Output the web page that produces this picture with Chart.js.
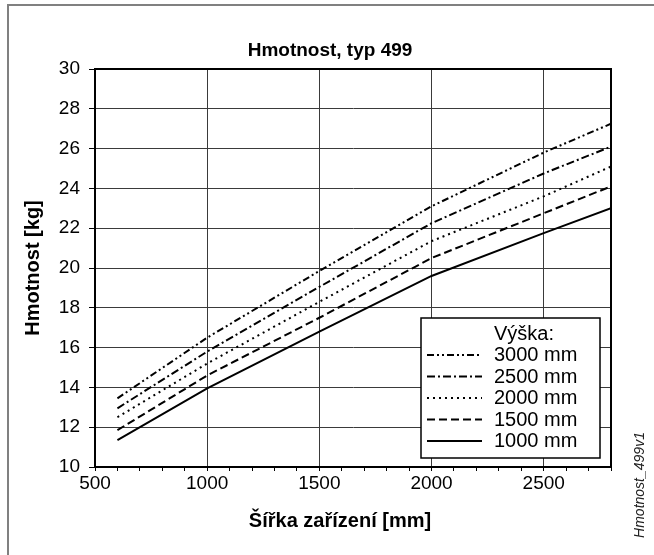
<!DOCTYPE html>
<html lang="cs">
<head>
<meta charset="utf-8">
<title>Hmotnost, typ 499</title>
<script src="https://cdn.jsdelivr.net/npm/chart.js@4/dist/chart.umd.min.js"></script>
<style>
  html, body { margin: 0; padding: 0; background: #fff; }
  canvas { display: block; }
</style>
</head>
<body>
<canvas id="chart" width="654" height="555"></canvas>
<script>
// Šířka zařízení [mm]
const widths = [600, 1000, 1500, 2000, 2500, 2800];

// Hmotnost [kg] pro jednotlivé výšky zařízení
const h3000 = [13.45, 16.5, 19.85, 23.1, 25.8, 27.25];
const h2500 = [12.95, 15.8, 19.05, 22.25, 24.75, 26.1];
const h2000 = [12.5, 15.2, 18.3, 21.35, 23.6, 25.1];
const h1500 = [11.85, 14.6, 17.5, 20.5, 22.75, 24.1];
const h1000 = [11.35, 13.95, 16.8, 19.6, 21.75, 23.0];

const seriesLabels = ['3000 mm', '2500 mm', '2000 mm', '1500 mm', '1000 mm'];
const seriesValues = [h3000, h2500, h2000, h1500, h1000];

// Popisky os
const xTickLabels = [500, 1000, 1500, 2000, 2500];
const yTickLabels = [10, 12, 14, 16, 18, 20, 22, 24, 26, 28, 30];

// Styly čar: čerchovaná se dvěma tečkami, čerchovaná, tečkovaná, čárkovaná, plná
const dashStyles = [
  [7, 3, 2, 3, 2, 3],
  [8, 3, 2, 3],
  [2, 4],
  [8, 4],
  []
];

const FONT = "'Liberation Sans', Arial, Helvetica, sans-serif";
const GRID = '#3a3a3a';

Chart.defaults.font.family = FONT;
Chart.defaults.color = '#000';

const datasets = seriesValues.map((vals, i) => ({
  label: seriesLabels[i],
  data: widths.map((w, j) => ({ x: w, y: vals[j] })),
  borderColor: '#000',
  borderWidth: 2,
  borderDash: dashStyles[i],
  pointRadius: 0,
  fill: false,
  tension: 0
}));

// Rám, nadpis, okraj grafu, popisy os, legenda a značka výkresu
const decorations = {
  id: 'decorations',
  beforeDraw(chart) {
    const ctx = chart.ctx;
    ctx.save();
    ctx.strokeStyle = '#808080';
    ctx.lineWidth = 2;
    ctx.beginPath();
    ctx.moveTo(8, 555);
    ctx.lineTo(8, 5);
    ctx.lineTo(654, 5);
    ctx.stroke();

    ctx.fillStyle = '#000';
    ctx.font = 'bold 19px ' + FONT;
    ctx.textAlign = 'center';
    ctx.textBaseline = 'middle';
    ctx.fillText('Hmotnost, typ 499', 330, 51);
    ctx.restore();
  },
  afterDatasetsDraw(chart) {
    const ctx = chart.ctx;
    const a = chart.chartArea;
    ctx.save();

    // horní a pravý okraj plochy grafu
    ctx.strokeStyle = '#000';
    ctx.lineWidth = 2;
    ctx.beginPath();
    ctx.moveTo(a.left, a.top);
    ctx.lineTo(a.right, a.top);
    ctx.lineTo(a.right, a.bottom);
    ctx.stroke();

    // legenda
    const lx = 421, ly = 318, lw = 179, lh = 140;
    ctx.fillStyle = '#fff';
    ctx.fillRect(lx, ly, lw, lh);
    ctx.lineWidth = 1.5;
    ctx.strokeStyle = '#000';
    ctx.strokeRect(lx, ly, lw, lh);

    ctx.fillStyle = '#000';
    ctx.font = '20px ' + FONT;
    ctx.textAlign = 'left';
    ctx.textBaseline = 'alphabetic';
    ctx.fillText('Výška:', 494, 340);
    chart.data.datasets.forEach((ds, i) => {
      const cy = 354 + i * 21.5;
      ctx.fillText(ds.label, 494, cy + 7);
      ctx.beginPath();
      ctx.setLineDash(ds.borderDash);
      ctx.lineWidth = ds.borderWidth;
      ctx.moveTo(427, cy + 1);
      ctx.lineTo(482, cy + 1);
      ctx.stroke();
    });
    ctx.setLineDash([]);

    // názvy os
    ctx.font = 'bold 20px ' + FONT;
    ctx.textAlign = 'center';
    ctx.textBaseline = 'middle';
    ctx.fillText('Šířka zařízení [mm]', 340, 521);
    ctx.save();
    ctx.translate(33, (a.top + a.bottom) / 2);
    ctx.rotate(-Math.PI / 2);
    ctx.fillText('Hmotnost [kg]', 0, 0);
    ctx.restore();

    // označení výkresu
    ctx.save();
    ctx.font = 'italic 14px ' + FONT;
    ctx.fillStyle = '#222';
    ctx.translate(640, 485);
    ctx.rotate(-Math.PI / 2);
    ctx.fillText('Hmotnost_499v1', 0, 0);
    ctx.restore();

    ctx.restore();
  }
};

new Chart(document.getElementById('chart'), {
  type: 'line',
  data: { datasets },
  options: {
    responsive: false,
    animation: false,
    events: [],
    layout: { padding: { left: 0, right: 43, top: 69, bottom: 0 } },
    plugins: {
      legend: { display: false },
      tooltip: { enabled: false },
      title: { display: false }
    },
    scales: {
      x: {
        type: 'linear',
        min: 500,
        max: 2800,
        afterFit(scale) { scale.height = 88; },
        afterBuildTicks(scale) {
          // vedlejší značky po 100 mm
          const t = [];
          for (let v = scale.min; v <= scale.max; v += 100) t.push({ value: v });
          scale.ticks = t;
        },
        ticks: {
          autoSkip: false,
          maxRotation: 0,
          padding: 1,
          font: { size: 19, family: FONT },
          color: '#000',
          callback: (v) => (xTickLabels.includes(v) ? String(v) : '')
        },
        grid: {
          color: (c) => (c.tick && xTickLabels.includes(c.tick.value) ? GRID : 'rgba(0,0,0,0)'),
          tickColor: '#000',
          tickLength: 4,
          lineWidth: 1
        },
        border: { color: '#000', width: 2 }
      },
      y: {
        type: 'linear',
        min: 10,
        max: 30,
        afterFit(scale) { scale.width = 95; },
        afterBuildTicks(scale) {
          scale.ticks = yTickLabels.map((v) => ({ value: v }));
        },
        ticks: {
          padding: 9,
          font: { size: 19, family: FONT },
          color: '#000',
          callback: (v) => String(v)
        },
        grid: {
          color: GRID,
          tickColor: '#000',
          tickLength: 6,
          lineWidth: 1
        },
        border: { color: '#000', width: 2 }
      }
    }
  },
  plugins: [decorations]
});
</script>
</body>
</html>
